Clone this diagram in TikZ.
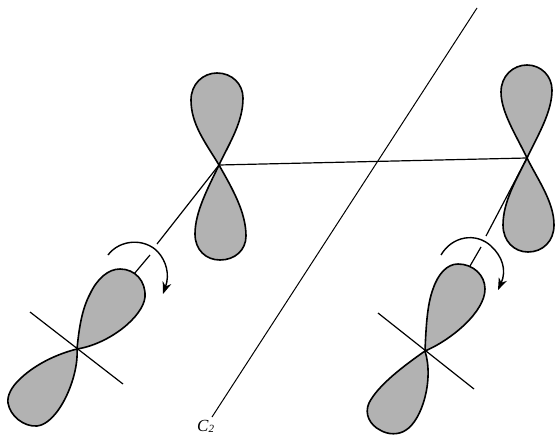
\documentclass[tikz,border=0pt]{standalone}
\usepackage{fontspec}
\setmainfont{Liberation Serif}
\usetikzlibrary{arrows.meta}
\tikzset{
  lobe/.style={draw=black,fill=black!30,line width=1.6pt,line join=round},
  thinline/.style={draw=black,line width=1.2pt},
  turn/.style={draw=black,line width=1.4pt,-{Stealth[length=12pt,width=9pt]}},
  axislabel/.style={inner sep=0pt,font=\fontsize{17}{17}\selectfont}
}
\begin{document}
\begin{tikzpicture}[x=1pt,y=-1pt]
\useasboundingbox (0,0) rectangle (556,436);
\coordinate (A) at (219,165);
\coordinate (B) at (527,158);
\coordinate (C) at (77,349);
\coordinate (D) at (425,351);
% C2 axis
\coordinate (axT) at (477,8);
\coordinate (axB) at (212,417);
\draw[thinline,line width=1pt] (axT) -- (axB);
\node[axislabel,anchor=base west] (c2) at (197,431) {\textit{C}\raisebox{-1pt}{\fontsize{11}{11}\selectfont\textit{2}}};
% bond
\draw[thinline] (A) -- (B);
% axis to lower lobes
\coordinate (a1) at (157,244);
\coordinate (a2) at (150,255);
\coordinate (a3) at (134,274);
\draw[thinline] (A) -- (a1);
\draw[thinline] (a2) -- (a3);
\coordinate (b1) at (486,236);
\coordinate (b2) at (481,247);
\coordinate (b3) at (470,266);
\draw[thinline] (B) -- (b1);
\draw[thinline] (b2) -- (b3);
% top-left orbital
\draw[lobe] (A) .. controls (205,142) and (191,124) .. (191,100)
  .. controls (191,84) and (203,73) .. (217,73)
  .. controls (232,73) and (243,84) .. (243,98)
  .. controls (243,122) and (230,142) .. (A) -- cycle;
\draw[lobe] (A) .. controls (208,188) and (195,212) .. (195,234)
  .. controls (195,250) and (206,260) .. (220,260)
  .. controls (235,260) and (246,250) .. (246,236)
  .. controls (246,212) and (232,188) .. (A) -- cycle;
% top-right orbital
\draw[lobe] (B) .. controls (516,135) and (501,112) .. (501,92)
  .. controls (501,76) and (513,65) .. (527,65)
  .. controls (541,65) and (552,76) .. (552,90)
  .. controls (552,112) and (538,135) .. (B) -- cycle;
\draw[lobe] (B) .. controls (516,180) and (503,202) .. (503,225)
  .. controls (503,241) and (514,252) .. (528,252)
  .. controls (543,252) and (554,241) .. (554,225)
  .. controls (554,202) and (538,180) .. (B) -- cycle;
% bottom-left orbital
\draw[thinline] (30,312) coordinate (c1) -- (123,384) coordinate (c3);
\draw[lobe] (C) .. controls (79,328) and (82,309) .. (90,294)
  .. controls (97,279) and (108,269) .. (120,269)
  .. controls (135,269) and (146,281) .. (145,297)
  .. controls (143,317) and (109,344) .. (C) -- cycle;
\draw[lobe] (C) .. controls (57,354) and (36,364) .. (21,378)
  .. controls (11,387) and (7,396) .. (8,403)
  .. controls (10,416) and (24,427) .. (37,426)
  .. controls (58,424) and (79,378) .. (C) -- cycle;
% bottom-right orbital
\draw[thinline] (378,313) coordinate (d1) -- (474,389) coordinate (d3);
\draw[lobe] (D) .. controls (426,328) and (427,305) .. (433,289)
  .. controls (438,274) and (447,264) .. (458,264)
  .. controls (473,264) and (485,275) .. (485,289)
  .. controls (485,312) and (451,340) .. (D) -- cycle;
\draw[lobe] (D) .. controls (405,365) and (378,385) .. (369,403)
  .. controls (364,414) and (370,425) .. (380,430)
  .. controls (388,435) and (399,435) .. (406,430)
  .. controls (422,420) and (434,380) .. (D) -- cycle;
% rotation arrows
\coordinate (e1) at (108,255);
\coordinate (e2) at (163,294);
\draw[turn] (e1) .. controls (120,239) and (145,238) .. (158,252)
  .. controls (166,261) and (170,274) .. (e2);
\coordinate (f1) at (441,255);
\coordinate (f2) at (498,290);
\draw[turn] (f1) .. controls (452,236) and (476,232) .. (491,246)
  .. controls (502,256) and (507,270) .. (f2);
\end{tikzpicture}
\end{document}
